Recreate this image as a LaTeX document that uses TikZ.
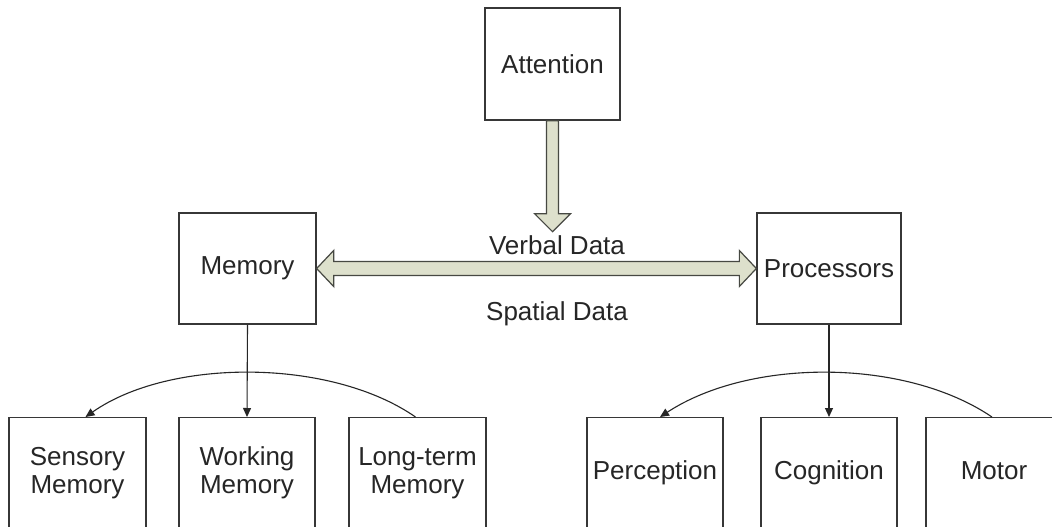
\documentclass[tikz,border=0pt]{standalone}
\usepackage{fontspec}
\setmainfont{Liberation Sans}
\usetikzlibrary{arrows.meta,calc}
\definecolor{boxline}{RGB}{55,55,55}
\definecolor{flowfill}{RGB}{221,224,204}
\definecolor{flowline}{RGB}{70,72,66}

\begin{document}
\begin{tikzpicture}[x=1pt,y=-1pt,
  box/.style={draw=boxline, line width=1.3pt, fill=white, inner sep=0pt,
    align=center, font=\fontsize{26}{28}\selectfont, text=black!85},
  oneline/.style={text height=19pt, text depth=5.5pt},
  link/.style={draw=black!85, line width=1.1pt,
    -{Triangle[length=9pt,width=8pt]}},
  flow/.style={draw=flowline, line width=1.2pt, fill=flowfill, line join=miter},
  lbl/.style={font=\fontsize{26}{28}\selectfont, inner sep=0pt, text=black!85}]

  % page frame
  \fill[white] (0,0) rectangle (1052,527);
  \useasboundingbox (0,0) rectangle (1052,527);

  % upper boxes
  \node[box, minimum width=135pt, minimum height=112pt] (att)  at (552.5,64)   {Attention};
  \node[box, minimum width=137pt, minimum height=111pt] (mem)  at (247.5,268.5) {Memory};
  \node[box, minimum width=144pt, minimum height=111pt] (proc) at (829,268.5)   {Processors};

  % memory stores
  \node[box, anchor=north, minimum width=137pt, minimum height=111pt] (sm)  at (77.5,417)  {Sensory\\Memory};
  \node[box, anchor=north, minimum width=136pt, minimum height=111pt] (wm)  at (247,417)   {Working\\Memory};
  \node[box, anchor=north, minimum width=137pt, minimum height=111pt] (ltm) at (417.5,417) {Long-term\\Memory};

  % processors
  \node[box, oneline, anchor=north, minimum width=136pt, minimum height=111pt] (perc) at (655,417) {Perception};
  \node[box, oneline, anchor=north, minimum width=136pt, minimum height=111pt] (cog)  at (829,417) {Cognition};
  \node[box, oneline, anchor=north, minimum width=136pt, minimum height=111pt] (mot)  at (994,417) {Motor};

  % attention feeds the data channel
  \draw[flow] ($(att.south)+(-6,0)$) -- ($(att.south)+(-6,93)$)
    -- ($(att.south)+(-18,93)$) -- ($(att.south)+(0,111)$)
    -- ($(att.south)+(18,93)$) -- ($(att.south)+(6,93)$)
    -- ($(att.south)+(6,0)$) -- cycle;

  % two-way data channel between memory and processors
  \draw[flow] let \p1=(mem.east), \p2=(proc.west) in
    (\x1,\y1) -- (\x1+17pt,\y1+18pt) -- (\x1+17pt,\y1+7pt)
    -- (\x2-17pt,\y2+7pt) -- (\x2-17pt,\y2+18pt) -- (\x2,\y2)
    -- (\x2-17pt,\y2-18pt) -- (\x2-17pt,\y2-7pt)
    -- (\x1+17pt,\y1-7pt) -- (\x1+17pt,\y1-18pt) -- cycle;

  \node[lbl, anchor=base] (verbal)  at (557,254) {Verbal Data};
  \node[lbl, anchor=base] (spatial) at (557,320) {Spatial Data};

  % memory hierarchy
  \draw[link] (mem.south) -- (wm.north);
  \draw[link] ($(ltm.north)+(-2,0)$)
    .. controls ($(ltm.north)+(-87,-59)$) and ($(sm.north)+(92,-59)$)
    .. ($(sm.north)+(8,0)$);

  % processing stages
  \draw[link] (proc.south) -- (cog.north);
  \draw[link] ($(mot.north)+(-2,0)$)
    .. controls ($(mot.north)+(-89,-59)$) and ($(perc.north)+(95,-59)$)
    .. ($(perc.north)+(5,0)$);
\end{tikzpicture}
\end{document}
